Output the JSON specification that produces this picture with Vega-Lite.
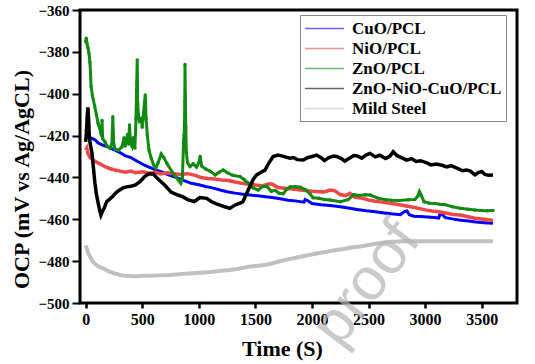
{
  "$schema": "https://vega.github.io/schema/vega-lite/v6.json",
  "width": 437,
  "height": 293,
  "autosize": {"type": "none"},
  "padding": {"left": 80, "top": 10, "right": 18, "bottom": 61},
  "datasets": {
    "ms": [
      {"t":0,"v":-472.5},{"t":10,"v":-474},{"t":25,"v":-476.5},{"t":38,"v":-477.8},{"t":60,"v":-480},{"t":82,"v":-481.2},{"t":110,"v":-482.5},{"t":154,"v":-483.4},{"t":200,"v":-484.8},{"t":250,"v":-485.8},{"t":303,"v":-486.6},{"t":350,"v":-487},{"t":392,"v":-487.1},{"t":450,"v":-487.2},{"t":500,"v":-487},{"t":568,"v":-487},{"t":650,"v":-486.8},{"t":745,"v":-486.6},{"t":850,"v":-486.2},{"t":1010,"v":-485.6},{"t":1100,"v":-485.2},{"t":1200,"v":-484.6},{"t":1275,"v":-484.2},{"t":1350,"v":-483.6},{"t":1453,"v":-482.6},{"t":1520,"v":-482.2},{"t":1585,"v":-481.8},{"t":1650,"v":-481},{"t":1720,"v":-480},{"t":1780,"v":-479.2},{"t":1836,"v":-478.6},{"t":1900,"v":-477.9},{"t":1980,"v":-477},{"t":2050,"v":-476.2},{"t":2130,"v":-475.5},{"t":2200,"v":-474.8},{"t":2280,"v":-474.2},{"t":2350,"v":-473.5},{"t":2425,"v":-473},{"t":2500,"v":-472.3},{"t":2580,"v":-471.6},{"t":2650,"v":-471},{"t":2720,"v":-470.7},{"t":2800,"v":-470.5},{"t":2900,"v":-470.5},{"t":3000,"v":-470.5},{"t":3200,"v":-470.5},{"t":3400,"v":-470.5},{"t":3600,"v":-470.5}
    ],
    "cuo": [
      {"t":0,"v":-417},{"t":15,"v":-419},{"t":38,"v":-421},{"t":60,"v":-421.5},{"t":82,"v":-422},{"t":110,"v":-423.5},{"t":150,"v":-424.5},{"t":200,"v":-425.5},{"t":260,"v":-427},{"t":300,"v":-428},{"t":348,"v":-429.6},{"t":400,"v":-430.5},{"t":436,"v":-431.7},{"t":480,"v":-433},{"t":524,"v":-434.3},{"t":580,"v":-435.5},{"t":620,"v":-436.5},{"t":668,"v":-437.3},{"t":720,"v":-438.5},{"t":770,"v":-439.5},{"t":816,"v":-440.3},{"t":870,"v":-441.5},{"t":933,"v":-442.8},{"t":1000,"v":-443.5},{"t":1060,"v":-444.3},{"t":1120,"v":-445},{"t":1189,"v":-446},{"t":1250,"v":-446.8},{"t":1320,"v":-447.5},{"t":1390,"v":-448},{"t":1453,"v":-448.4},{"t":1520,"v":-448.8},{"t":1590,"v":-449.2},{"t":1650,"v":-449.6},{"t":1720,"v":-450.2},{"t":1790,"v":-450.9},{"t":1850,"v":-451.2},{"t":1930,"v":-451.8},{"t":1940,"v":-450.5},{"t":1960,"v":-451},{"t":2000,"v":-452.5},{"t":2080,"v":-453},{"t":2160,"v":-453.4},{"t":2250,"v":-454},{"t":2320,"v":-454.6},{"t":2400,"v":-455.3},{"t":2480,"v":-455.9},{"t":2560,"v":-456.4},{"t":2640,"v":-457},{"t":2700,"v":-457.4},{"t":2780,"v":-457.8},{"t":2820,"v":-456.2},{"t":2840,"v":-456},{"t":2860,"v":-457.8},{"t":2900,"v":-458.5},{"t":2960,"v":-458.7},{"t":3020,"v":-458.9},{"t":3080,"v":-459.2},{"t":3120,"v":-459.4},{"t":3132,"v":-457.5},{"t":3150,"v":-457.7},{"t":3180,"v":-459.2},{"t":3240,"v":-459.8},{"t":3300,"v":-460.3},{"t":3380,"v":-460.8},{"t":3450,"v":-461.3},{"t":3520,"v":-461.6},{"t":3600,"v":-461.9}
    ],
    "nio": [
      {"t":0,"v":-427},{"t":10,"v":-426},{"t":20,"v":-428.5},{"t":40,"v":-430.5},{"t":60,"v":-431.5},{"t":90,"v":-432.5},{"t":126,"v":-433.5},{"t":160,"v":-434.5},{"t":200,"v":-435.5},{"t":250,"v":-436.3},{"t":304,"v":-437},{"t":350,"v":-437.5},{"t":400,"v":-437},{"t":440,"v":-437.8},{"t":500,"v":-437.3},{"t":560,"v":-438},{"t":620,"v":-437.6},{"t":660,"v":-438.3},{"t":720,"v":-437.8},{"t":780,"v":-438.2},{"t":840,"v":-438.6},{"t":900,"v":-438.2},{"t":968,"v":-439},{"t":1020,"v":-440},{"t":1080,"v":-440.5},{"t":1140,"v":-440.8},{"t":1200,"v":-441.2},{"t":1260,"v":-441.5},{"t":1320,"v":-442.2},{"t":1365,"v":-442.7},{"t":1430,"v":-443.1},{"t":1497,"v":-443.6},{"t":1560,"v":-444},{"t":1620,"v":-443},{"t":1650,"v":-443.2},{"t":1700,"v":-444.8},{"t":1760,"v":-445.2},{"t":1830,"v":-445.5},{"t":1896,"v":-446},{"t":1950,"v":-446.3},{"t":2000,"v":-446.6},{"t":2060,"v":-446.8},{"t":2110,"v":-446.9},{"t":2160,"v":-446},{"t":2200,"v":-446.3},{"t":2250,"v":-448.2},{"t":2300,"v":-448.7},{"t":2336,"v":-447.6},{"t":2380,"v":-449.5},{"t":2450,"v":-450},{"t":2500,"v":-450.8},{"t":2560,"v":-451.4},{"t":2620,"v":-451.8},{"t":2690,"v":-452.3},{"t":2750,"v":-452.8},{"t":2800,"v":-453.3},{"t":2868,"v":-454},{"t":2920,"v":-454.5},{"t":2955,"v":-455},{"t":3000,"v":-455.5},{"t":3060,"v":-456},{"t":3120,"v":-456.4},{"t":3180,"v":-457},{"t":3250,"v":-457.7},{"t":3309,"v":-458},{"t":3380,"v":-458.8},{"t":3440,"v":-459.5},{"t":3520,"v":-460},{"t":3600,"v":-460.6}
    ],
    "zno": [
      {"t":0,"v":-375},{"t":5,"v":-373.5},{"t":12,"v":-376},{"t":20,"v":-378},{"t":30,"v":-381},{"t":38,"v":-385},{"t":48,"v":-396.6},{"t":60,"v":-401},{"t":80,"v":-406},{"t":95,"v":-410},{"t":109,"v":-414},{"t":135,"v":-418.8},{"t":140,"v":-420},{"t":145,"v":-412.8},{"t":150,"v":-421.5},{"t":170,"v":-423},{"t":190,"v":-425},{"t":215,"v":-426},{"t":232,"v":-424},{"t":240,"v":-411},{"t":248,"v":-424},{"t":260,"v":-426.5},{"t":290,"v":-427},{"t":320,"v":-425.5},{"t":340,"v":-421},{"t":350,"v":-425},{"t":370,"v":-419.5},{"t":380,"v":-424},{"t":388,"v":-415},{"t":395,"v":-423},{"t":410,"v":-425},{"t":420,"v":-421},{"t":435,"v":-426},{"t":445,"v":-412},{"t":451,"v":-395},{"t":456,"v":-383.9},{"t":460,"v":-405},{"t":466,"v":-410},{"t":475,"v":-413},{"t":490,"v":-412},{"t":500,"v":-416},{"t":512,"v":-409},{"t":520,"v":-404},{"t":527,"v":-400.6},{"t":534,"v":-412},{"t":545,"v":-420},{"t":560,"v":-427},{"t":580,"v":-431},{"t":600,"v":-434},{"t":620,"v":-435.5},{"t":640,"v":-433},{"t":668,"v":-428.8},{"t":690,"v":-430.5},{"t":720,"v":-433.5},{"t":760,"v":-437},{"t":800,"v":-440},{"t":840,"v":-442.8},{"t":855,"v":-440},{"t":866,"v":-422},{"t":870,"v":-419.9},{"t":873,"v":-415.8},{"t":876,"v":-403.8},{"t":878,"v":-386},{"t":881,"v":-400.9},{"t":885,"v":-416},{"t":890,"v":-428},{"t":900,"v":-433},{"t":922,"v":-434.8},{"t":950,"v":-433.5},{"t":980,"v":-435},{"t":1000,"v":-433},{"t":1012,"v":-430},{"t":1025,"v":-434.5},{"t":1060,"v":-436},{"t":1100,"v":-437},{"t":1144,"v":-438.8},{"t":1180,"v":-437.5},{"t":1215,"v":-436.4},{"t":1260,"v":-438},{"t":1300,"v":-439},{"t":1364,"v":-439.6},{"t":1400,"v":-441},{"t":1436,"v":-442.7},{"t":1480,"v":-445},{"t":1524,"v":-446},{"t":1560,"v":-444.5},{"t":1600,"v":-444.2},{"t":1640,"v":-446.6},{"t":1674,"v":-446.2},{"t":1710,"v":-447.6},{"t":1745,"v":-447.8},{"t":1780,"v":-445.5},{"t":1807,"v":-444.5},{"t":1850,"v":-444.3},{"t":1896,"v":-444.7},{"t":1940,"v":-445.8},{"t":1985,"v":-448},{"t":2010,"v":-449.7},{"t":2060,"v":-450},{"t":2110,"v":-450.5},{"t":2160,"v":-450.8},{"t":2250,"v":-451.6},{"t":2320,"v":-450.6},{"t":2370,"v":-448.2},{"t":2420,"v":-448.6},{"t":2470,"v":-448.3},{"t":2515,"v":-448.4},{"t":2580,"v":-449.8},{"t":2645,"v":-450.6},{"t":2700,"v":-450.9},{"t":2778,"v":-451},{"t":2850,"v":-450.7},{"t":2910,"v":-450.5},{"t":2935,"v":-449},{"t":2950,"v":-446.8},{"t":2965,"v":-448.5},{"t":2990,"v":-451.6},{"t":3040,"v":-452.3},{"t":3087,"v":-452.4},{"t":3130,"v":-452.8},{"t":3176,"v":-453},{"t":3240,"v":-454},{"t":3309,"v":-454.7},{"t":3380,"v":-455.2},{"t":3441,"v":-455.6},{"t":3500,"v":-455.8},{"t":3547,"v":-455.9},{"t":3600,"v":-455.8}
    ],
    "mix": [
      {"t":0,"v":-423},{"t":8,"v":-418},{"t":14,"v":-410},{"t":20,"v":-406.5},{"t":26,"v":-412},{"t":32,"v":-420},{"t":40,"v":-424},{"t":55,"v":-428},{"t":68,"v":-435},{"t":82,"v":-442.8},{"t":95,"v":-448},{"t":111,"v":-452.4},{"t":125,"v":-456},{"t":135,"v":-458},{"t":150,"v":-456},{"t":165,"v":-454.5},{"t":186,"v":-451.5},{"t":210,"v":-450.5},{"t":240,"v":-449},{"t":274,"v":-447},{"t":300,"v":-446},{"t":330,"v":-445},{"t":362,"v":-444.5},{"t":400,"v":-444.2},{"t":440,"v":-443.6},{"t":480,"v":-442},{"t":521,"v":-439.6},{"t":560,"v":-438.3},{"t":600,"v":-438.5},{"t":640,"v":-440.8},{"t":698,"v":-443.6},{"t":755,"v":-447},{"t":815,"v":-448.4},{"t":860,"v":-449.3},{"t":905,"v":-450.7},{"t":960,"v":-451.5},{"t":1010,"v":-449.6},{"t":1069,"v":-450},{"t":1110,"v":-451.5},{"t":1150,"v":-452.5},{"t":1187,"v":-453.2},{"t":1230,"v":-454},{"t":1275,"v":-454.8},{"t":1310,"v":-453.5},{"t":1340,"v":-452.8},{"t":1364,"v":-452.3},{"t":1390,"v":-451.6},{"t":1423,"v":-447.6},{"t":1450,"v":-444.5},{"t":1480,"v":-441},{"t":1511,"v":-438.8},{"t":1550,"v":-437.5},{"t":1585,"v":-436.5},{"t":1620,"v":-433},{"t":1657,"v":-430},{"t":1700,"v":-429.3},{"t":1740,"v":-429.8},{"t":1770,"v":-430.3},{"t":1806,"v":-430.8},{"t":1835,"v":-430.5},{"t":1870,"v":-431.5},{"t":1923,"v":-431.7},{"t":1960,"v":-430.6},{"t":2000,"v":-430},{"t":2041,"v":-429.3},{"t":2080,"v":-430.6},{"t":2110,"v":-431.9},{"t":2150,"v":-430.5},{"t":2190,"v":-429.8},{"t":2218,"v":-430},{"t":2260,"v":-431},{"t":2290,"v":-432.2},{"t":2330,"v":-430.8},{"t":2370,"v":-429.5},{"t":2400,"v":-429.7},{"t":2440,"v":-430.8},{"t":2480,"v":-429.2},{"t":2513,"v":-428.5},{"t":2560,"v":-430.2},{"t":2600,"v":-429.4},{"t":2650,"v":-431},{"t":2690,"v":-429.8},{"t":2718,"v":-427.7},{"t":2750,"v":-429.5},{"t":2790,"v":-430.5},{"t":2837,"v":-431.7},{"t":2880,"v":-431},{"t":2920,"v":-432.4},{"t":2960,"v":-432},{"t":3014,"v":-433},{"t":3050,"v":-434},{"t":3100,"v":-433.6},{"t":3150,"v":-434.2},{"t":3190,"v":-435},{"t":3230,"v":-434.4},{"t":3280,"v":-435.6},{"t":3330,"v":-436.8},{"t":3367,"v":-436.5},{"t":3400,"v":-437},{"t":3440,"v":-438.8},{"t":3470,"v":-437.7},{"t":3500,"v":-437.2},{"t":3530,"v":-438.6},{"t":3560,"v":-439},{"t":3600,"v":-438.8}
    ],
    "wm": [{"t": 2972, "v": -469.9, "label": "proof"}]
  },
  "encoding": {
    "x": {
      "field": "t", "type": "quantitative",
      "scale": {"domain": [-50, 3812], "nice": false, "zero": false},
      "axis": {
        "values": [0, 500, 1000, 1500, 2000, 2500, 3000, 3500], "format": "d",
        "title": "Time (S)", "titleFontSize": 22, "titleX": 202, "titleY": 52,
        "titleAlign": "center", "titleBaseline": "alphabetic",
        "tickSize": 5, "tickWidth": 2.5, "labelFontSize": 16, "labelPadding": 3,
        "labelFlush": false
      }
    },
    "y": {
      "field": "v", "type": "quantitative",
      "scale": {"domain": [-500, -360], "nice": false, "zero": false},
      "axis": {
        "values": [-500, -480, -460, -440, -420, -400, -380, -360], "format": "d",
        "title": "OCP (mV vs Ag/AgCL)", "titleFontSize": 22, "titleX": -59, "titleY": 169,
        "titleAlign": "center", "titleBaseline": "middle",
        "tickSize": 8, "tickWidth": 2, "labelFontSize": 15, "labelPadding": 3,
        "labelFlush": false
      }
    }
  },
  "layer": [
    {"data": {"name": "ms"}, "mark": {"type": "line", "strokeWidth": 4},
     "encoding": {"color": {"datum": "Mild Steel", "type": "nominal",
       "scale": {"domain": ["CuO/PCL", "NiO/PCL", "ZnO/PCL", "ZnO-NiO-CuO/PCL", "Mild Steel"],
                 "range": ["#0000ff", "#ef4747", "#128a12", "#000000", "#c0c0c0"]},
       "legend": {"title": null}}}},
    {"data": {"name": "cuo"}, "mark": {"type": "line", "strokeWidth": 3},
     "encoding": {"color": {"datum": "CuO/PCL", "type": "nominal"}}},
    {"data": {"name": "nio"}, "mark": {"type": "line", "strokeWidth": 3.5},
     "encoding": {"color": {"datum": "NiO/PCL", "type": "nominal"}}},
    {"data": {"name": "zno"}, "mark": {"type": "line", "strokeWidth": 3},
     "encoding": {"color": {"datum": "ZnO/PCL", "type": "nominal"}}},
    {"data": {"name": "zno"}, "mark": {"type": "point", "filled": true, "size": 12, "opacity": 1, "color": "#128a12"}},
    {"data": {"name": "mix"}, "mark": {"type": "line", "strokeWidth": 3.5},
     "encoding": {"color": {"datum": "ZnO-NiO-CuO/PCL", "type": "nominal"}}},
    {"data": {"name": "wm"}, "mark": {"type": "text", "font": "Liberation Sans, Arial, DejaVu Sans, sans-serif", "fontSize": 60, "angle": -53, "align": "right", "baseline": "alphabetic", "color": "#b5b5b5", "opacity": 0.7},
     "encoding": {"text": {"field": "label"}}}
  ],
  "config": {
    "font": "Liberation Serif, Times New Roman, DejaVu Serif, serif",
    "view": {"stroke": "#000000", "strokeWidth": 3},
    "axis": {"domain": false, "grid": false, "tickColor": "#000", "labelColor": "#000", "titleColor": "#000",
             "labelFont": "Liberation Serif, Times New Roman, DejaVu Serif, serif", "labelFontWeight": "bold",
             "titleFont": "Liberation Serif, Times New Roman, DejaVu Serif, serif", "titleFontWeight": "bold"},
    "legend": {
      "orient": "none", "legendX": 220, "legendY": 5,
      "strokeColor": "#888888", "fillColor": "#ffffff", "padding": 4,
      "labelFont": "Liberation Serif, Times New Roman, DejaVu Serif, serif", "labelFontWeight": "bold", "labelFontSize": 17, "labelColor": "#000",
      "symbolType": "M-2.3,0H2.3", "symbolSize": 289, "symbolStrokeWidth": 1.5, "symbolOpacity": 0.6,
      "symbolOffset": 11, "labelOffset": 18, "rowPadding": 2, "labelLimit": 300
    }
  }
}
